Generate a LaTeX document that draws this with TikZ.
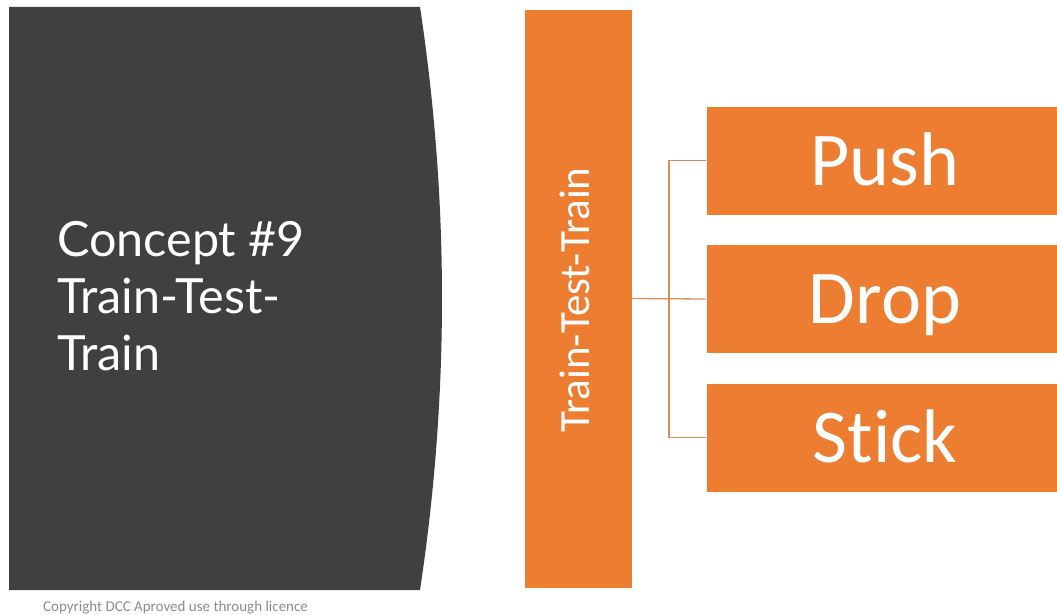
\documentclass[tikz,border=0pt]{standalone}
\usepackage{fontspec}
\newfontfamily\tsans{Lato}
\newfontfamily\carl[Ligatures=NoCommon]{Carlito}
\definecolor{darkpanel}{HTML}{404040}
\definecolor{accent}{HTML}{ED7D31}
\definecolor{linkcol}{RGB}{214,142,94}
\definecolor{copygray}{HTML}{8C8C8C}
\tikzset{
  choice/.style={fill=accent, draw=white, line width=0.6pt, minimum width=358pt, minimum height=109pt,
    inner sep=0pt, text=white, font=\carl\fontsize{76}{80}\selectfont, text height=49pt, text depth=0pt},
  link/.style={draw=linkcol, line width=1.3pt}
}
\begin{document}
\begin{tikzpicture}[x=1pt,y=-1pt]
\useasboundingbox (0,0) rectangle (1057,615);
\begin{scope}
\clip (0,0) rectangle (1057,615);
% dark panel
\fill[darkpanel] (9,7) -- (420,7) .. controls (449.3,201) and (449.3,396) .. (420,590) -- (9,590) -- cycle;
\node[anchor=base west, align=left, inner sep=0pt, text=white,
      font=\tsans\fontsize{48.5}{57}\selectfont] (title) at (57,370)
      {Concept \#9\\Train-Test-\\Train};
% vertical bar
\node[fill=accent, draw=white, line width=0.6pt, minimum width=108pt, minimum height=579pt, inner sep=0pt] (bar) at (578,298.5) {};
\node[rotate=90, inner sep=0pt, text=white, font=\carl\fontsize{43}{46}\selectfont,
      text height=27.7pt, text depth=0pt] (bartext) at (576,300) {Train-Test-Train};
% choices
\node[choice] (push) at (885,160.5) {Push};
\node[choice] (drop) at (885,299) {Drop};
\node[choice] (stick) at (885,437.5) {Stick};
% connectors
\coordinate (j) at (669,299);
\draw[link] (bar.east) -- (drop.west);
\draw[link] (push.west) -| (j) |- (stick.west);
% copyright
\node[anchor=base west, inner sep=0pt, text=copygray, font=\carl\fontsize{15}{17}\selectfont] (copy) at (43,611)
      {Copyright DCC Aproved use through licence};
\end{scope}
\end{tikzpicture}
\end{document}
